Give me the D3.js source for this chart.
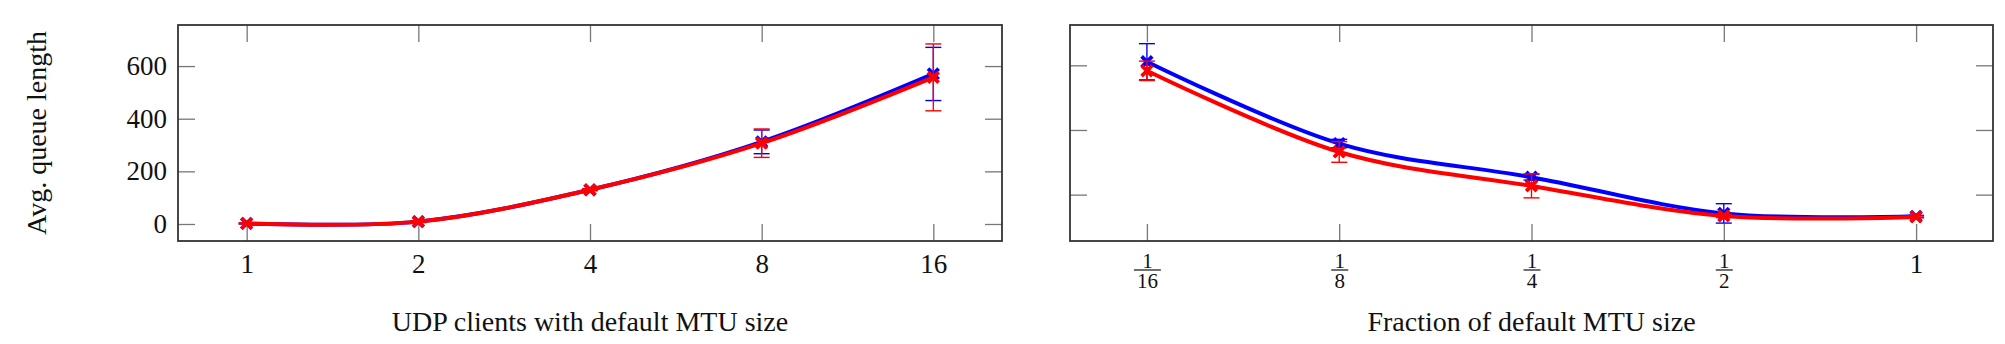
<!DOCTYPE html>
<html>
<head>
<meta charset="utf-8">
<script src="https://cdn.jsdelivr.net/npm/d3@7"></script>
<style>
  body { margin: 0; background: #fff; }
  text { font-family: "Liberation Serif", "Times New Roman", serif; fill: #111; }
</style>
</head>
<body>
<svg id="chart" width="2005" height="344"></svg>
<script>
// left panel: number of UDP clients (default MTU)
var clientCounts = [1, 2, 4, 8, 16];
var clientLabels = ["1", "2", "4", "8", "16"];
var clientsBlue = [2, 9, 130, 312, 570];
var clientsBlueErr = [2, 3, 3, 45, 101];
var clientsRed = [2, 9, 130, 307, 557];
var clientsRedErr = [2, 3, 3, 54, 127];

// right panel: fraction of default MTU
var mtuFractions = [1/16, 1/8, 1/4, 1/2, 1];
var mtuLabels = ["1/16", "1/8", "1/4", "1/2", "1"];
var mtuBlue = [611, 358, 254, 142, 133];
var mtuBlueErr = [56, 13, 9, 30, 3];
var mtuRed = [583, 332, 227, 134, 131];
var mtuRedErr = [30, 32, 37, 5, 3];

var yTicks = [0, 200, 400, 600];

var svg = d3.select("#chart");
var plotTop = 25, plotBottom = 241;
var tickLen = 17;

function panel(opts){
	var x = d3.scaleLog().base(2).domain(opts.xDomain).range([opts.left, opts.right]);
	var y = d3.scaleLinear().domain(opts.yDomain).range([plotBottom, plotTop]);
	var yt = yTicks.filter(function(v){ return v >= opts.yDomain[0] && v <= opts.yDomain[1]; });

	var g = svg.append("g");

	// ticks on all four sides, pointing in
	var bx = g.append("g").attr("transform", "translate(0," + plotBottom + ")")
		.call(d3.axisBottom(x).tickValues(opts.xValues).tickSize(-tickLen).tickPadding(13)
			.tickFormat(function(d, i){ return opts.xLabels[i]; }));
	g.append("g").attr("transform", "translate(0," + plotTop + ")")
		.call(d3.axisTop(x).tickValues(opts.xValues).tickSize(-tickLen).tickFormat(""));
	g.append("g").attr("transform", "translate(" + opts.left + ",0)")
		.call(d3.axisLeft(y).tickValues(yt).tickSize(-tickLen).tickPadding(11)
			.tickFormat(opts.yLabels ? d3.format("d") : ""));
	g.append("g").attr("transform", "translate(" + opts.right + ",0)")
		.call(d3.axisRight(y).tickValues(yt).tickSize(-tickLen).tickFormat(""));

	g.selectAll(".domain").remove();
	g.selectAll(".tick line").attr("stroke", "#777").attr("stroke-width", 1.3);
	g.selectAll(".tick text").style("font-size", "27px").attr("fill", "#111");

	// fractions as stacked numerator / denominator
	bx.selectAll(".tick text").each(function(d, i){
		var lab = opts.xLabels[i];
		if(lab.indexOf("/") < 0) return;
		var parts = lab.split("/");
		var tick = d3.select(this.parentNode);
		d3.select(this).remove();
		tick.append("text").attr("y", 27).attr("text-anchor", "middle")
			.style("font-size", "21px").attr("fill", "#111").text(parts[0]);
		tick.append("text").attr("y", 47).attr("text-anchor", "middle")
			.style("font-size", "21px").attr("fill", "#111").text(parts[1]);
		var w = parts[1].length * 10 + 7;
		tick.append("line").attr("x1", -w/2).attr("x2", w/2).attr("y1", 29).attr("y2", 29)
			.attr("stroke", "#111").attr("stroke-width", 1.2);
	});

	// frame
	g.append("rect")
		.attr("x", opts.left).attr("y", plotTop)
		.attr("width", opts.right - opts.left).attr("height", plotBottom - plotTop)
		.attr("fill", "none").attr("stroke", "#333").attr("stroke-width", 1.8);

	var line = d3.line()
		.x(function(d){ return x(d.x); })
		.y(function(d){ return y(d.y); })
		.curve(d3.curveCardinal.tension(0));

	var cross = d3.symbol().type(d3.symbolTimes).size(75);

	opts.series.forEach(function(s){
		var pts = opts.xValues.map(function(v, i){ return {x: v, y: s.values[i], e: s.err[i]}; });
		var sg = g.append("g");
		sg.append("path").datum(pts).attr("d", line)
			.attr("fill", "none").attr("stroke", s.color).attr("stroke-width", 4)
			.attr("stroke-linejoin", "round");

		var eb = sg.selectAll(".err").data(pts).enter().append("g").attr("class", "err");
		eb.append("line")
			.attr("x1", function(d){ return x(d.x); }).attr("x2", function(d){ return x(d.x); })
			.attr("y1", function(d){ return y(d.y - d.e); }).attr("y2", function(d){ return y(d.y + d.e); });
		eb.append("line")
			.attr("x1", function(d){ return x(d.x) - 8; }).attr("x2", function(d){ return x(d.x) + 8; })
			.attr("y1", function(d){ return y(d.y + d.e); }).attr("y2", function(d){ return y(d.y + d.e); });
		eb.append("line")
			.attr("x1", function(d){ return x(d.x) - 8; }).attr("x2", function(d){ return x(d.x) + 8; })
			.attr("y1", function(d){ return y(d.y - d.e); }).attr("y2", function(d){ return y(d.y - d.e); });
		eb.selectAll("line").attr("stroke", s.color).attr("stroke-width", 1.4);

		sg.selectAll(".mark").data(pts).enter().append("path").attr("class", "mark")
			.attr("transform", function(d){ return "translate(" + x(d.x) + "," + y(d.y) + ")"; })
			.attr("d", cross)
			.attr("fill", "none").attr("stroke", s.color).attr("stroke-width", 3.8);
	});

	g.append("text")
		.attr("x", (opts.left + opts.right) / 2).attr("y", 331)
		.attr("text-anchor", "middle").style("font-size", "28px")
		.text(opts.xTitle);
}

panel({
	left: 178, right: 1002,
	xDomain: [Math.pow(2, -0.4), Math.pow(2, 4.4)],
	yDomain: [-64.6, 756],
	xValues: clientCounts, xLabels: clientLabels, yLabels: true,
	series: [
		{values: clientsBlue, err: clientsBlueErr, color: "#0000ff"},
		{values: clientsRed, err: clientsRedErr, color: "#ff0000"}
	],
	xTitle: "UDP clients with default MTU size"
});

panel({
	left: 1070, right: 1993,
	xDomain: [Math.pow(2, -4.4), Math.pow(2, 0.4)],
	yDomain: [56.6, 724.7],
	xValues: mtuFractions, xLabels: mtuLabels, yLabels: false,
	series: [
		{values: mtuBlue, err: mtuBlueErr, color: "#0000ff"},
		{values: mtuRed, err: mtuRedErr, color: "#ff0000"}
	],
	xTitle: "Fraction of default MTU size"
});

svg.append("text")
	.attr("transform", "translate(46,133) rotate(-90)")
	.attr("text-anchor", "middle").style("font-size", "28px")
	.text("Avg. queue length");
</script>
</body>
</html>
